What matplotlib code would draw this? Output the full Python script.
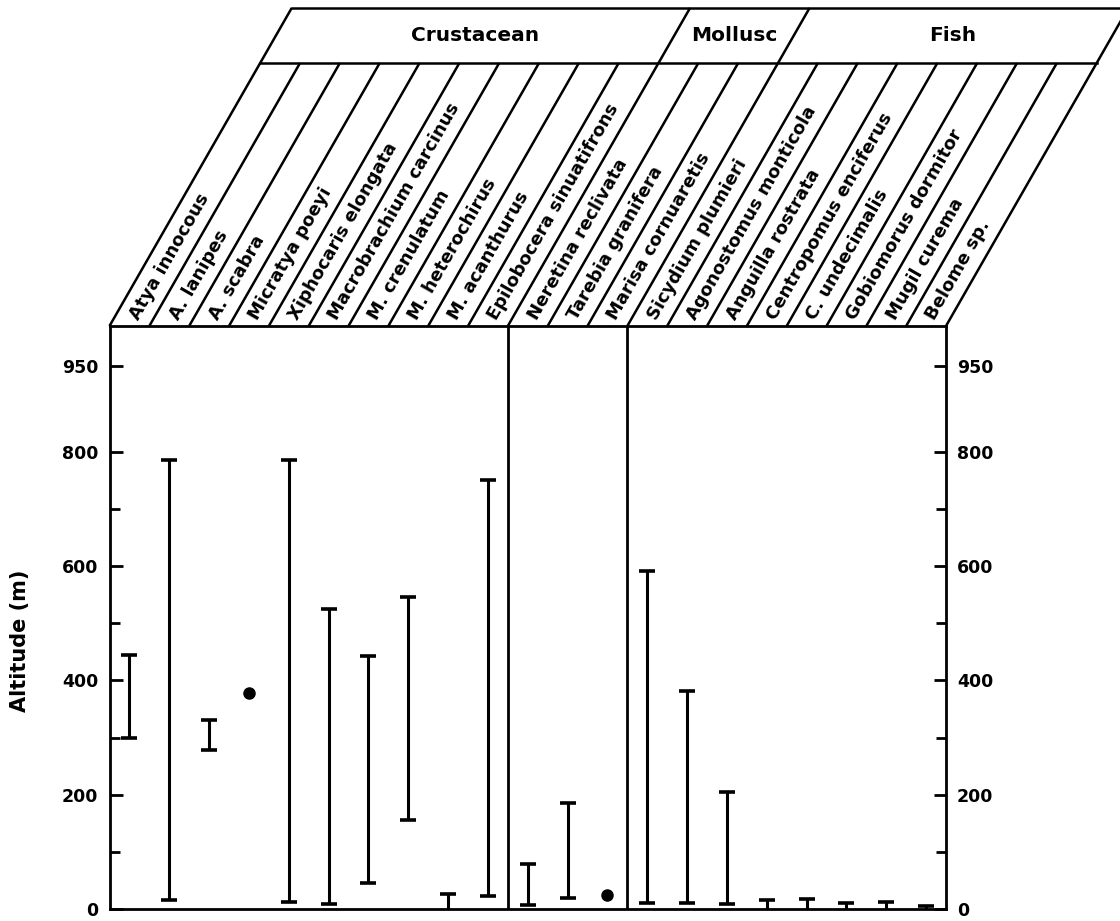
import numpy as np
import matplotlib.pyplot as plt

species = [
    'Atya innocous', 'A. lanipes', 'A. scabra', 'Micratya poeyi',
    'Xiphocaris elongata', 'Macrobrachium carcinus', 'M. crenulatum',
    'M. heterochirus', 'M. acanthurus', 'Epilobocera sinuatifrons',
    'Neretina reclivata', 'Tarebia granifera', 'Marisa cornuaretis',
    'Sicydium plumieri', 'Agonostomus monticola', 'Anguilla rostrata',
    'Centropomus enciferus', 'C. undecimalis', 'Gobiomorus dormitor',
    'Mugil curema', 'Belome sp.',
]
groups = ['Crustacean', 'Mollusc', 'Fish']
group_sizes = [10, 3, 8]

# altitude range (m) for each species; low == high means a single record
alt_low = [300, 16, 278, 378, 12, 9, 45, 156, 0, 22,
           7, 19, 25,
           10, 10, 9, 0, 0, 0, 0, 0]
alt_high = [444, 785, 330, 378, 785, 524, 443, 545, 27, 750,
            78, 186, 25,
            592, 381, 204, 16, 17, 11, 13, 5]

major_ticks = [0, 200, 400, 600, 800, 950]
minor_ticks = [100, 300, 500, 700]

n = len(species)
x = np.arange(n) + 0.5
alt_low = np.array(alt_low)
alt_high = np.array(alt_high)

W, H = 1120, 921
fig = plt.figure(figsize=(W / 100, H / 100), dpi=100)

# main plot box (pixel positions)
left, right, top, bottom = 109.5, 946, 326, 909
ax = fig.add_axes([left / W, (H - bottom) / H, (right - left) / W, (bottom - top) / H])
ax.set_xlim(0, n)
ax.set_ylim(0, 1020)

for s in ax.spines.values():
    s.set_linewidth(2)

# group dividers inside the plot
bounds = np.cumsum(group_sizes)[:-1]
for b in bounds:
    ax.axvline(b, color='black', lw=2)

# ranges
rng = alt_high > alt_low
ax.vlines(x[rng], alt_low[rng], alt_high[rng], color='black', lw=2.2)
ax.plot(x[rng], alt_high[rng], ls='none', marker='_', ms=11, mew=2.6, color='black')
cap_low = rng & (alt_low > 0)
ax.plot(x[cap_low], alt_low[cap_low], ls='none', marker='_', ms=11, mew=2.6, color='black')
# single records
ax.plot(x[~rng], alt_high[~rng], ls='none', marker='o', ms=8, color='black')

ax.set_xticks([])
ax.set_yticks(major_ticks)
ax.set_yticks(minor_ticks, minor=True)
ax.tick_params(axis='y', which='both', direction='in', left=True, right=True,
               labelleft=True, labelright=True, width=2)
ax.tick_params(axis='y', which='major', length=9, pad=8, labelsize=12.5)
ax.tick_params(axis='y', which='minor', length=7)
for lab in ax.get_yticklabels():
    lab.set_fontweight('bold')

ax.set_ylabel('Altitude (m)', fontsize=15, fontweight='bold')
ax.yaxis.set_label_coords(-0.095, 0.46)

# slanted header above the plot
head_top = 8
hax = fig.add_axes([left / W, (H - top) / H, (right - left) / W, (top - head_top) / H])
hax.set_xlim(0, n)
hax.set_ylim(0, 1)
hax.axis('off')

col_h = (top - 63) / (top - head_top)   # height of the species row
col_px = (right - left) / n
shear = 0.573 * (top - head_top) / col_px  # x shift (columns) per unit height

edges = [0] + list(np.cumsum(group_sizes))
for k in range(n + 1):
    h = 1.0 if k in edges else col_h
    hax.plot([k, k + shear * h], [0, h], color='black', lw=1.8, clip_on=False,
             solid_capstyle='butt')
hax.plot([shear * col_h, n + shear * col_h], [col_h, col_h], color='black', lw=1.8, clip_on=False)
hax.plot([shear, n + shear], [1, 1], color='black', lw=1.8, clip_on=False)

# text angle along the slant
p0 = hax.transData.transform((0, 0))
p1 = hax.transData.transform((shear, 1))
angle = np.degrees(np.arctan2(p1[1] - p0[1], p1[0] - p0[0]))

h0 = 0.025
for i, name in enumerate(species):
    hax.text(i + 0.5 + shear * h0, h0, name, rotation=angle, rotation_mode='anchor',
             ha='left', va='center', fontsize=13, fontweight='bold', clip_on=False)

hmid = (col_h + 1) / 2
for g, a, b in zip(groups, edges[:-1], edges[1:]):
    hax.text((a + b) / 2 + shear * hmid, hmid, g, ha='center', va='center',
             fontsize=14.5, fontweight='bold', clip_on=False)

fig.savefig('out.png', dpi=100)
